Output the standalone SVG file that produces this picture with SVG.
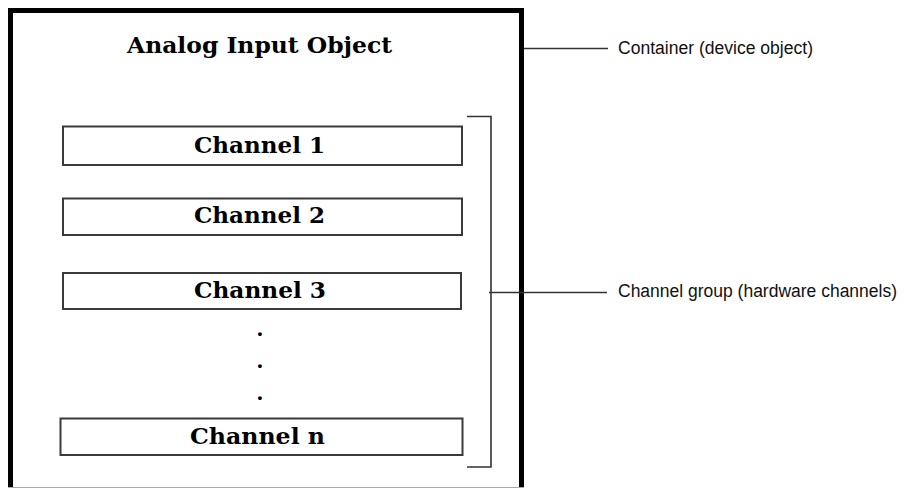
<svg xmlns="http://www.w3.org/2000/svg" width="905" height="488" viewBox="0 0 905 488">
<style>
.frame{fill:none;stroke:#000;stroke-width:5}
.box{fill:#fff;stroke:#3a3a3a;stroke-width:2}
.ln{fill:none;stroke:#333;stroke-width:1.6}
.ser{font-family:"DejaVu Serif","Liberation Serif",serif;font-weight:bold;fill:#000;text-anchor:middle}
.lbl{font-family:"Liberation Sans","DejaVu Sans",sans-serif;font-size:18px;fill:#111}
</style>
<rect width="905" height="488" fill="#fff"/>
<g id="container">
<path class="frame" d="M10.5,492 V10.5 H521.5 V492"/>
<line x1="8" y1="487.5" x2="524" y2="487.5" stroke="#aaa" stroke-width="1"/>
<text class="ser" x="259.5" y="53" font-size="22.5" textLength="265" lengthAdjust="spacingAndGlyphs">Analog Input Object</text>
</g>
<g id="channel1">
<rect class="box" x="63" y="126.5" width="399" height="38.5"/>
<text class="ser" x="259.5" y="152.5" font-size="22" textLength="131" lengthAdjust="spacingAndGlyphs">Channel 1</text>
</g>
<g id="channel2">
<rect class="box" x="63" y="198.5" width="399" height="36.5"/>
<text class="ser" x="259.5" y="222.5" font-size="22" textLength="131" lengthAdjust="spacingAndGlyphs">Channel 2</text>
</g>
<g id="channel3">
<rect class="box" x="63" y="273" width="398" height="36"/>
<text class="ser" x="260" y="297.5" font-size="22" textLength="132" lengthAdjust="spacingAndGlyphs">Channel 3</text>
</g>
<g id="ellipsis">
<text class="ser" x="260" y="336" font-size="21">.</text>
<text class="ser" x="260" y="368" font-size="21">.</text>
<text class="ser" x="260" y="400" font-size="21">.</text>
</g>
<g id="channeln">
<rect class="box" x="60.5" y="418.5" width="402" height="36.5"/>
<text class="ser" x="257.5" y="443.5" font-size="22" textLength="135" lengthAdjust="spacingAndGlyphs">Channel n</text>
</g>
<g id="connectors">
<path class="ln" d="M467,116.5 H491 V467 H467"/>
<line class="ln" x1="489" y1="292.5" x2="607" y2="292.5"/>
<line class="ln" x1="524" y1="48.5" x2="608" y2="48.5"/>
</g>
<g id="labels">
<text class="lbl" x="618" y="54" textLength="195" lengthAdjust="spacingAndGlyphs">Container (device object)</text>
<text class="lbl" x="618" y="297" font-size="17" textLength="279" lengthAdjust="spacingAndGlyphs">Channel group (hardware channels)</text>
</g>
</svg>
